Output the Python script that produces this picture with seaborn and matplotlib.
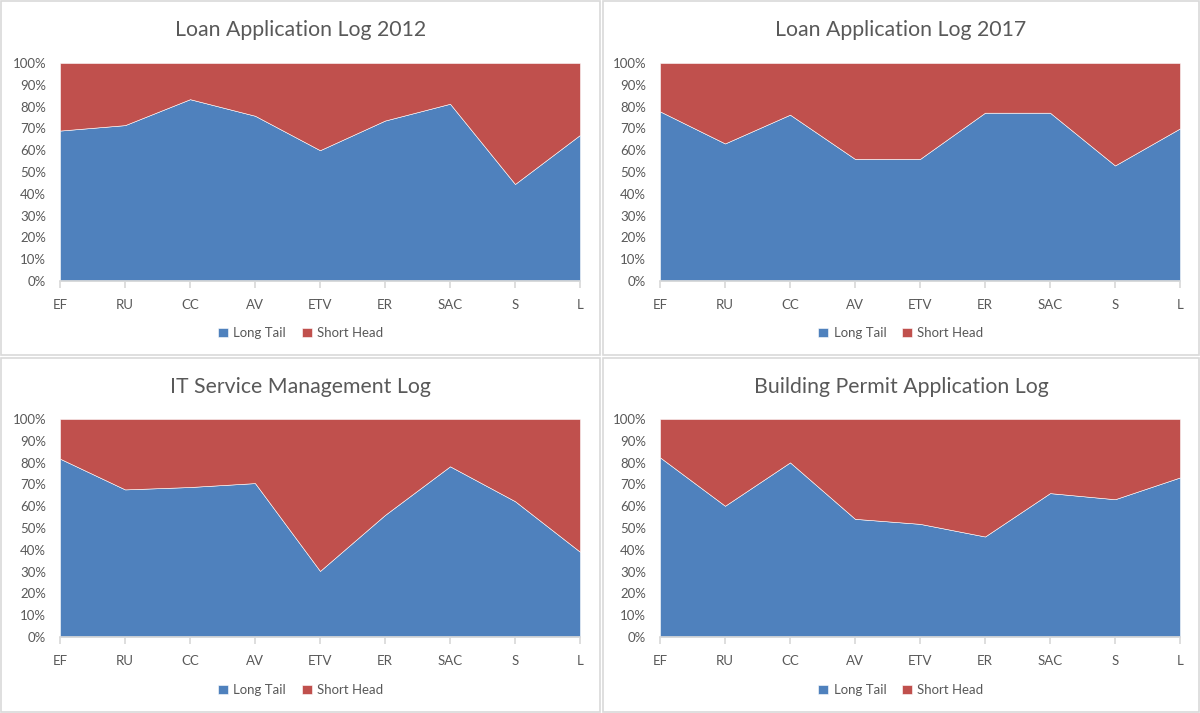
import numpy as np
import matplotlib
matplotlib.use("Agg")
import matplotlib.pyplot as plt
import seaborn as sns
from matplotlib.patches import Rectangle

# categories shared by all four panels
categories = ["EF", "RU", "CC", "AV", "ETV", "ER", "SAC", "S", "L"]

titles = ["Loan Application Log 2012", "Loan Application Log 2017",
          "IT Service Management Log", "Building Permit Application Log"]

# long tail share (%) per category
long_2012 = [69.0, 71.5, 83.4, 75.8, 60.0, 73.6, 81.3, 44.5, 67.0]
long_2017 = [77.8, 63.1, 76.3, 56.0, 56.0, 77.2, 77.2, 53.0, 70.0]
long_itsm = [81.8, 67.7, 68.8, 70.6, 30.3, 56.0, 78.3, 62.3, 39.1]
long_bpa = [82.4, 60.2, 80.1, 54.2, 51.9, 46.1, 66.0, 63.2, 73.2]

# short head share (%) - the rest up to 100%
short_2012 = [31.0, 28.5, 16.6, 24.2, 40.0, 26.4, 18.7, 55.5, 33.0]
short_2017 = [22.2, 36.9, 23.7, 44.0, 44.0, 22.8, 22.8, 47.0, 30.0]
short_itsm = [18.2, 32.3, 31.2, 29.4, 69.7, 44.0, 21.7, 37.7, 60.9]
short_bpa = [17.6, 39.8, 19.9, 45.8, 48.1, 53.9, 34.0, 36.8, 26.8]

series_names = ["Long Tail", "Short Head"]
long_all = [long_2012, long_2017, long_itsm, long_bpa]
short_all = [short_2012, short_2017, short_itsm, short_bpa]

blue = "#4F81BD"
red = "#C0504D"
text_grey = "#595959"

sns.set_theme(style="white")
plt.rcParams["font.family"] = ["Lato", "DejaVu Sans"]

fig = plt.figure(figsize=(12, 7.13), dpi=100)
W, H = 1200, 713

# panel frames (pixels): x0, y0, x1, y1
frames = [(1, 1, 600, 355), (603, 1, 1199, 355),
          (1, 358, 600, 712), (603, 358, 1199, 712)]
# plot areas (pixels): left, top, right, bottom
areas = [(60, 63, 580, 281), (660, 63, 1180, 281),
         (60, 419, 580, 637), (660, 419, 1180, 637)]

for i in range(4):
    fx0, fy0, fx1, fy1 = frames[i]
    fig.add_artist(Rectangle((fx0 / W, 1 - fy1 / H), (fx1 - fx0) / W, (fy1 - fy0) / H,
                             transform=fig.transFigure, fill=False,
                             edgecolor="#D9D9D9", linewidth=1.2))
    cx = (fx0 + fx1) / 2 / W
    l, t, r, b = areas[i]
    ax = fig.add_axes([l / W, 1 - b / H, (r - l) / W, (b - t) / H])
    x = np.arange(len(categories))
    ax.stackplot(x, long_all[i], short_all[i], colors=[blue, red],
                 labels=series_names, edgecolor="white", linewidth=0.4)
    ax.set_xlim(0, len(categories) - 1)
    ax.set_ylim(0, 100)
    ax.set_xticks(x)
    ax.set_xticklabels(categories)
    ax.set_yticks(np.arange(0, 101, 10))
    ax.set_yticklabels([f"{v}%" for v in range(0, 101, 10)])
    for s in ["top", "right", "left"]:
        ax.spines[s].set_visible(False)
    ax.spines["bottom"].set_color("#D9D9D9")
    ax.tick_params(axis="x", length=5, color="#D9D9D9", direction="out",
                   labelsize=9.5, labelcolor=text_grey, pad=8, bottom=True)
    ax.tick_params(axis="y", length=0, labelsize=9.5, labelcolor=text_grey, pad=10)
    # title and legend are centred on the panel, not on the plot area
    fig.text(cx, 1 - (fy0 + 29) / H, titles[i], ha="center", va="center",
             fontsize=15.3, color=text_grey)
    ax.legend(loc="center", bbox_to_anchor=(cx, 1 - (fy0 + 332) / H),
              bbox_transform=fig.transFigure, ncol=2, frameon=False,
              handlelength=0.75, handleheight=0.75, handletextpad=0.4,
              columnspacing=1.2, fontsize=9.5, labelcolor=text_grey)

fig.savefig("out.png", dpi=100, facecolor="white")
